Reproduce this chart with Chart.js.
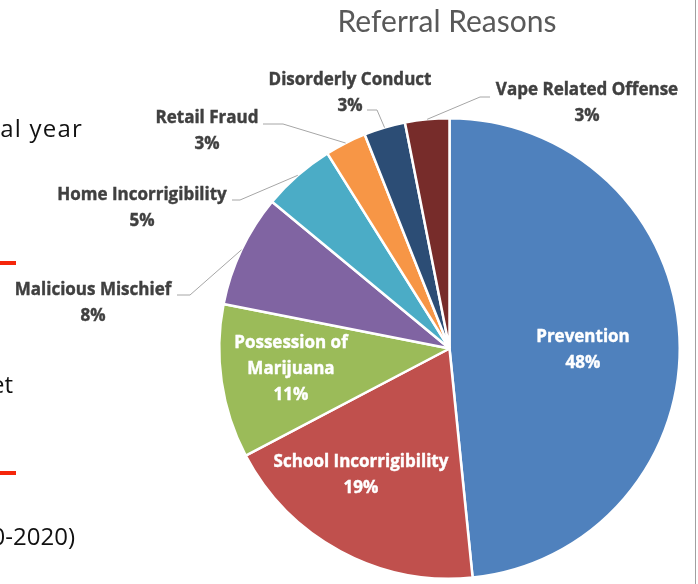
<!DOCTYPE html>
<html>
<head>
<meta charset="utf-8">
<script src="https://cdn.jsdelivr.net/npm/chart.js@4.4.0/dist/chart.umd.min.js"></script>
<style>
body { margin: 0; background: #fff; }
#wrap { position: relative; width: 698px; height: 584px; overflow: hidden; background: #fff; }
#pie { position: absolute; left: 0; top: 0; }
.side { position: absolute; font-family: "Open Sans", sans-serif; font-size: 24px; line-height: 24px; color: #111; white-space: nowrap; }
.bar { position: absolute; left: 0; width: 16px; height: 4px; background: #f5260a; }
#edge { position: absolute; left: 695px; top: 0; width: 1px; height: 584px; background: #a0a0a0; }
#title { position: absolute; left: 247px; width: 400px; top: 2px; text-align: center; font-family: Lato, sans-serif; font-size: 30px; color: #595959; }
</style>
</head>
<body>
<div id="wrap">
  <canvas id="pie" width="698" height="584"></canvas>
  <div id="title">Referral Reasons</div>
  <div class="side" style="right:615px;top:116px;letter-spacing:1.2px;">al year</div>
  <div class="bar" style="top:261px;"></div>
  <div class="side" style="right:685px;top:372px;">et</div>
  <div class="bar" style="top:471px;"></div>
  <div class="side" style="right:623px;top:524px;">0-2020)</div>
  <div id="edge"></div>
</div>
<script>
// referral reasons, share of referrals (%)
const categories = ['Prevention', 'School Incorrigibility', 'Possession of Marijuana', 'Malicious Mischief',
                    'Home Incorrigibility', 'Retail Fraud', 'Disorderly Conduct', 'Vape Related Offense'];
const shares = [48.4, 18.9, 10.8, 7.9, 5.1, 2.9, 2.9, 3.1];
const colors = ['#4f81bd', '#c0504d', '#9bbb59', '#8064a2', '#4bacc6', '#f79646', '#2c4d75', '#772c2a'];

// where each data label sits (first line centre) and how its leader line starts
var labelLayout = [
  {x: 583, y: 337, inside: true},
  {x: 361, y: 462, inside: true},
  {x: 291, y: 343, inside: true, lines: ['Possession of', 'Marijuana']},
  {x: 93,  y: 290, from: [177, 295], elbow: [190, 295]},
  {x: 142, y: 195, from: [232, 200], elbow: [240, 200]},
  {x: 207, y: 118, from: [263, 124], elbow: [283, 124]},
  {x: 350, y: 80,  from: [367, 110], elbow: [377, 110]},
  {x: 587, y: 90,  from: [490, 97],  elbow: [480, 97]}
];

var pieLabels = {
  id: 'pieLabels',
  afterDatasetsDraw: function(chart) {
    var ctx = chart.ctx;
    var arcs = chart.getDatasetMeta(0).data;
    ctx.save();
    ctx.font = 'bold 17px "Open Sans", sans-serif';
    ctx.textAlign = 'center';
    ctx.textBaseline = 'middle';
    arcs.forEach(function(arc, i) {
      var lay = labelLayout[i];
      var lines = (lay.lines || [categories[i]]).concat([Math.round(shares[i]) + '%']);
      if (!lay.inside) {
        var mid = (arc.startAngle + arc.endAngle) / 2;
        var ex = arc.x + Math.cos(mid) * arc.outerRadius;
        var ey = arc.y + Math.sin(mid) * arc.outerRadius;
        ctx.strokeStyle = '#a6a6a6';
        ctx.lineWidth = 1;
        ctx.beginPath();
        ctx.moveTo(lay.from[0], lay.from[1]);
        ctx.lineTo(lay.elbow[0], lay.elbow[1]);
        ctx.lineTo(ex, ey);
        ctx.stroke();
      }
      var col = lay.inside ? '#ffffff' : '#404040';
      ctx.fillStyle = col;
      ctx.strokeStyle = col;
      ctx.lineWidth = 0.4;
      lines.forEach(function(t, k) {
        ctx.fillText(t, lay.x, lay.y + k * 26);
        ctx.strokeText(t, lay.x, lay.y + k * 26);
      });
    });
    ctx.restore();
  }
};

var myChart = new Chart(document.getElementById('pie'), {
  type: 'pie',
  data: {
    labels: categories,
    datasets: [{
      data: shares,
      backgroundColor: colors,
      borderColor: '#ffffff',
      borderWidth: 2.5
    }]
  },
  options: {
    responsive: false,
    animation: false,
    layout: { padding: {left: 218, top: 117, right: 17, bottom: 4} },
    plugins: {
      legend: { display: false },
      tooltip: { enabled: false }
    }
  },
  plugins: [pieLabels]
});
</script>
</body>
</html>
